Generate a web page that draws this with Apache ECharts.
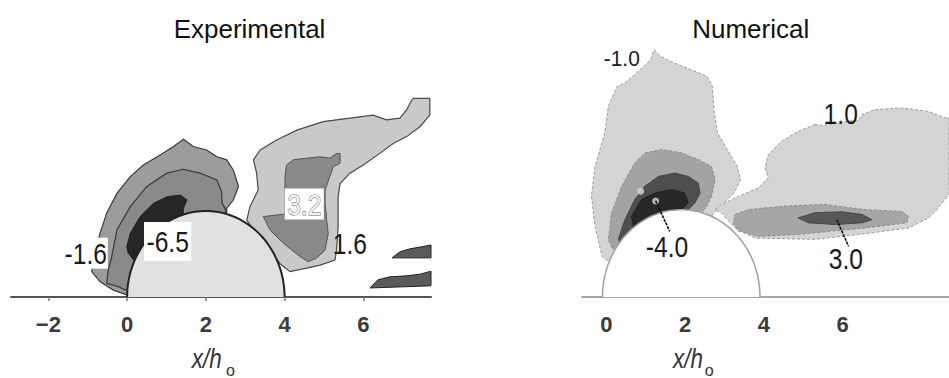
<!DOCTYPE html>
<html><head><meta charset="utf-8">
<script src="https://cdn.jsdelivr.net/npm/echarts@6/dist/echarts.min.js"></script>
<style>html,body{margin:0;padding:0;background:#fff}#c{width:949px;height:378px}</style>
</head><body><div id="c"></div>
<script>
// ---------- data (x in x/h_o, y in same units; hill radius 2) ----------
const leftTicks = [-2, 0, 2, 4, 6];
const rightTicks = [0, 2, 4, 6];
const hillLeft = [2, 2];     // centre x, radius
const hillRight = [1.9, 2];

// Experimental contours
const expOuter = [[-0.01,0.05],[-0.35,0.16],[-0.69,0.36],[-0.9,0.59],[-0.81,1.02],[-0.69,1.48],[-0.52,1.95],[-0.26,2.41],[0.08,2.8],[0.41,3.07],[0.84,3.3],[1.18,3.5],[1.43,3.67],[1.68,3.5],[2.02,3.42],[2.28,3.26],[2.53,3.19],[2.7,2.95],[2.83,2.57],[2.7,2.26],[2.53,2.06],[2.5,1.0],[0.3,0.3]];
const expMiddle = [[-0.05,0.16],[-0.22,0.24],[-0.52,0.32],[-0.48,0.63],[-0.39,0.94],[-0.26,1.56],[0.08,2.1],[0.5,2.57],[1.01,2.88],[1.43,2.97],[1.85,2.88],[2.28,2.72],[2.4,2.45],[2.41,2.19],[2.51,2.02],[2.0,1.0],[0.3,0.3]];
const expCore = [[0.03,1.02],[-0.01,1.17],[0.08,1.48],[0.33,1.87],[0.67,2.18],[1.01,2.33],[1.35,2.37],[1.52,2.26],[1.43,2.06],[1.4,1.5],[0.3,0.7]];
const expPos1 = [[3.12,2.10],[3.33,2.49],[3.29,2.88],[3.21,3.19],[3.38,3.42],[3.80,3.65],[4.31,3.88],[4.98,4.08],[5.66,4.16],[6.25,4.23],[6.59,4.12],[6.93,4.16],[7.10,4.35],[7.23,4.58],[7.28,4.62],[7.69,4.62],[7.69,4.23],[7.44,3.96],[7.10,3.73],[6.76,3.57],[6.42,3.34],[6.0,3.07],[5.66,2.88],[5.41,2.64],[5.36,2.33],[5.36,1.63],[5.32,1.09],[5.28,0.86],[4.90,0.74],[4.56,0.67],[4.14,0.59],[3.88,0.78],[3.55,1.17],[3.21,1.56],[3.04,1.79]];
const expPos2 = [[4.05,3.07],[4.22,3.19],[4.56,3.23],[4.90,3.26],[5.15,3.23],[5.32,3.34],[5.41,3.34],[5.41,3.11],[5.24,3.03],[5.15,2.80],[5.03,2.49],[5.03,2.18],[5.07,1.79],[5.11,1.48],[5.03,1.09],[4.81,0.90],[4.60,0.82],[4.39,0.94],[3.97,1.25],[3.63,1.56],[3.46,1.87],[4.01,1.93],[4.01,2.49],[4.01,2.80]];
const expStrip1 = [[6.73,0.91],[6.93,1.05],[7.18,1.12],[7.44,1.16],[7.72,1.21],[7.72,0.91]];
const expStrip2 = [[6.17,0.21],[6.37,0.40],[6.68,0.47],[7.06,0.49],[7.44,0.53],[7.72,0.60],[7.72,0.26]];
const expLabels = [['-1.6',-1.05,1.02],['-6.5',1.03,1.29],['3.2',4.5,2.16],['1.6',5.66,1.23]];

// Numerical contours
const numNeg1 = [[1.21,5.66],[1.38,5.51],[1.72,5.36],[2.14,5.21],[2.56,5.05],[2.69,4.82],[2.73,4.29],[2.82,3.76],[3.07,3.38],[3.32,2.99],[3.41,2.69],[3.24,2.38],[2.90,2.08],[2.73,1.93],[2.0,1.0],[0.5,0.5],[-0.11,0.93],[-0.29,1.62],[-0.38,2.31],[-0.29,2.99],[-0.04,3.76],[0.05,4.37],[0.27,4.82],[0.47,4.90],[0.95,5.28],[1.12,5.43]];
const numNeg2 = [[0.14,1.13],[0.05,1.32],[0.13,1.93],[0.39,2.54],[0.72,3.07],[0.98,3.30],[1.40,3.38],[1.91,3.30],[2.33,3.15],[2.67,2.99],[2.76,2.69],[2.67,2.31],[2.55,2.08],[2.42,1.93],[1.9,1.0],[0.5,0.8]];
const numNeg3 = [[0.30,1.32],[0.47,1.77],[0.72,2.23],[0.98,2.54],[1.32,2.76],[1.74,2.84],[2.08,2.76],[2.33,2.61],[2.38,2.38],[2.25,2.16],[2.08,2.00],[1.5,1.2],[0.5,1.0]];
const numNeg4 = [[0.64,1.85],[0.89,2.23],[1.23,2.38],[1.66,2.46],[1.99,2.38],[2.08,2.16],[1.91,2.00],[1.3,1.5],[0.7,1.5]];
const numSpots = [[0.87,2.42],[1.25,2.2],[0.92,1.62]];
const numPos1 = [[5.30,3.95],[4.87,3.79],[4.45,3.57],[4.11,3.26],[4.03,2.96],[4.11,2.73],[3.86,2.50],[3.27,2.27],[2.93,2.12],[2.76,2.00],[2.94,1.91],[3.27,1.58],[3.77,1.35],[5.30,1.32],[6.40,1.43],[7.67,1.58],[8.18,1.81],[8.35,1.96],[8.70,2.35],[8.70,4.11],[8.60,4.10],[8.18,4.25],[7.50,4.33],[6.82,4.29],[6.49,4.18],[6.42,4.06],[5.48,3.93]];
const numPos2 = [[3.27,1.89],[3.60,2.00],[4.45,2.08],[5.55,2.12],[6.57,2.00],[7.50,1.96],[7.67,1.85],[7.63,1.70],[6.57,1.58],[5.72,1.51],[4.87,1.43],[3.86,1.39],[3.35,1.51],[3.22,1.70]];
const numPos3 = [[4.87,1.81],[5.30,1.93],[5.98,1.95],[6.49,1.89],[6.74,1.77],[6.49,1.70],[5.81,1.66],[5.13,1.70]];
const numLabels = [['-1.0',0.39,5.46],['1.0',5.95,4.20],['-4.0',1.54,1.16],['3.0',6.08,0.88]];
const numLeaders = [[[1.25,2.2],[1.61,1.5]],[[5.85,1.77],[6.15,1.16]]];

// ---------- helpers ----------
const SANS = '"Liberation Sans",Arial,sans-serif';
const NARROW_X = 0.82;
function poly(pts, gi, fill, stroke, lw, z, dash) {
  return {type:'custom', xAxisIndex:gi, yAxisIndex:gi, data:pts, z:z, silent:true, clip:false,
    renderItem:function(p, api){
      if (p.dataIndex !== 0) return null;
      return {type:'polygon', shape:{points: pts.map(q => api.coord(q))},
        style:{fill:fill, stroke:stroke||null, lineWidth:lw||0, lineDash: dash||null}};
    }};
}
function hill(h, gi, fill, stroke, lw, z) {
  return {type:'custom', xAxisIndex:gi, yAxisIndex:gi, data:[[h[0],0]], z:z, silent:true, clip:false,
    renderItem:function(p, api){
      const pts = [];
      for (let k=0;k<=90;k++){ const a=Math.PI*(1-k/90); pts.push(api.coord([h[0]+h[1]*Math.cos(a), h[1]*Math.sin(a)])); }
      return {type:'polyline', shape:{points:pts}, style:{fill:fill, stroke:stroke, lineWidth:lw}};
    }};
}
function labels(list, gi, styler, z) {
  return {type:'custom', xAxisIndex:gi, yAxisIndex:gi, data:list.map(l=>[l[1],l[2]]), z:z, silent:true, clip:false,
    renderItem:function(p, api){
      const c = api.coord([api.value(0), api.value(1)]);
      const extra = styler(list[p.dataIndex][0]);
      const sx = extra.scaleX || NARROW_X; delete extra.scaleX;
      const st = Object.assign({text:list[p.dataIndex][0], align:'center', verticalAlign:'middle', fill:'#1a1a1a', font:'30px '+SANS}, extra);
      return {type:'text', x:c[0], y:c[1], scaleX:sx, style:st};
    }};
}
function leaders(list, gi, z) {
  return {type:'custom', xAxisIndex:gi, yAxisIndex:gi, data:list.map(l=>l[0]), z:z, silent:true, clip:false,
    renderItem:function(p, api){
      const l = list[p.dataIndex];
      const a = api.coord(l[0]), b = api.coord(l[1]);
      return {type:'line', shape:{x1:a[0],y1:a[1],x2:b[0],y2:b[1]}, style:{stroke:'#111', lineWidth:1.6, lineDash:[3,1]}};
    }};
}
const fmt = v => v < 0 ? '\u2212' + Math.abs(v) : String(v);
const tickLabel = {formatter:fmt, margin:16, fontSize:22, fontWeight:'bold', color:'#3a3a3a', fontFamily:SANS};

const option = {
  backgroundColor:'#fff',
  animation:false,
  grid:[
    {left:11, top:82, width:420, height:215, containLabel:false, outerBoundsMode:'none'},
    {left:582, top:35, width:367, height:262, containLabel:false, outerBoundsMode:'none'}
  ],
  xAxis:[
    {gridIndex:0, type:'value', min:-2.95, max:7.72, splitLine:{show:false},
     axisLine:{show:true, onZero:false, lineStyle:{color:'#555', width:2}},
     axisTick:{show:true, customValues:leftTicks, length:4, lineStyle:{color:'#777', width:1.5}},
     axisLabel:Object.assign({customValues:leftTicks}, tickLabel)},
    {gridIndex:1, type:'value', min:-0.62, max:8.7, splitLine:{show:false},
     axisLine:{show:true, onZero:false, lineStyle:{color:'#a8a8a8', width:2}},
     axisTick:{show:false},
     axisLabel:Object.assign({customValues:rightTicks}, tickLabel)}
  ],
  yAxis:[
    {gridIndex:0, type:'value', min:0, max:5, show:false},
    {gridIndex:1, type:'value', min:0, max:6, show:false}
  ],
  graphic:[
    {type:'text', x:249.5, y:29, style:{text:'Experimental', align:'center', verticalAlign:'middle', font:'26px '+SANS, fill:'#111'}},
    {type:'text', x:750.7, y:29, style:{text:'Numerical', align:'center', verticalAlign:'middle', font:'26px '+SANS, fill:'#111'}},
    {type:'text', x:206.7, y:359, scaleX:0.83, style:{text:'x/h', align:'center', verticalAlign:'middle', font:'italic 27px '+SANS, fill:'#333'}},
    {type:'text', x:230.5, y:378, style:{text:'o', align:'center', verticalAlign:'bottom', font:'16px '+SANS, fill:'#333'}},
    {type:'text', x:688, y:359, scaleX:0.83, style:{text:'x/h', align:'center', verticalAlign:'middle', font:'italic 27px '+SANS, fill:'#333'}},
    {type:'text', x:709.3, y:378, style:{text:'o', align:'center', verticalAlign:'bottom', font:'16px '+SANS, fill:'#333'}}
  ],
  series:[
    // experimental
    poly(expOuter, 0, '#9c9c9c', '#3a3a3a', 1.2, 2),
    poly(expMiddle, 0, '#8a8a8a', '#3a3a3a', 1.2, 3),
    poly(expCore, 0, '#262626', '#222', 1, 4),
    poly(expPos1, 0, '#c9c9c9', '#4a4a4a', 1.2, 2),
    poly(expPos2, 0, '#898989', '#555', 1, 3),
    poly(expStrip1, 0, '#5a5a5a', '#222', 1, 3),
    poly(expStrip2, 0, '#5a5a5a', '#222', 1, 3),
    hill(hillLeft, 0, '#e1e1e1', '#222', 2, 6),
    labels(expLabels, 0, function(t){
      if (t === '3.2') return {fill:'#f2f2f2', stroke:'#6a6a6a', lineWidth:1, backgroundColor:'#fff', padding:[1,3,0,3]};
      if (t === '-6.5') return {backgroundColor:'#fff', padding:[5,3,4,3]};
      if (t === '-1.6') return {backgroundColor:'#fff', padding:[1,1,0,1]};
      return {};
    }, 8),
    // numerical
    poly(numNeg1, 1, '#d4d4d4', '#9a9a9a', 1, 2, [3,2]),
    poly(numNeg2, 1, '#a3a3a3', '#8a8a8a', 1, 3, [3,2]),
    poly(numNeg3, 1, '#4e4e4e', '#444', 1, 4),
    poly(numNeg4, 1, '#272727', '#222', 1, 5),
    poly(numPos1, 1, '#d4d4d4', '#9a9a9a', 1, 2, [3,2]),
    poly(numPos2, 1, '#a6a6a6', '#8a8a8a', 1, 3, [3,2]),
    poly(numPos3, 1, '#585858', '#444', 1, 4),
    {type:'scatter', xAxisIndex:1, yAxisIndex:1, data:numSpots, symbolSize:7, z:6, silent:true,
     itemStyle:{color:'#d8d8d8'}},
    hill(hillRight, 1, '#ffffff', '#a0a0a0', 1.5, 7),
    leaders(numLeaders, 1, 9),
    labels(numLabels, 1, function(t){
      if (t === '-1.0') return {font:'22px '+SANS, scaleX:0.95};
      return {};
    }, 9)
  ]
};
const chart = echarts.init(document.getElementById('c'), null, {renderer:'svg'});
chart.setOption(option);
</script></body></html>
